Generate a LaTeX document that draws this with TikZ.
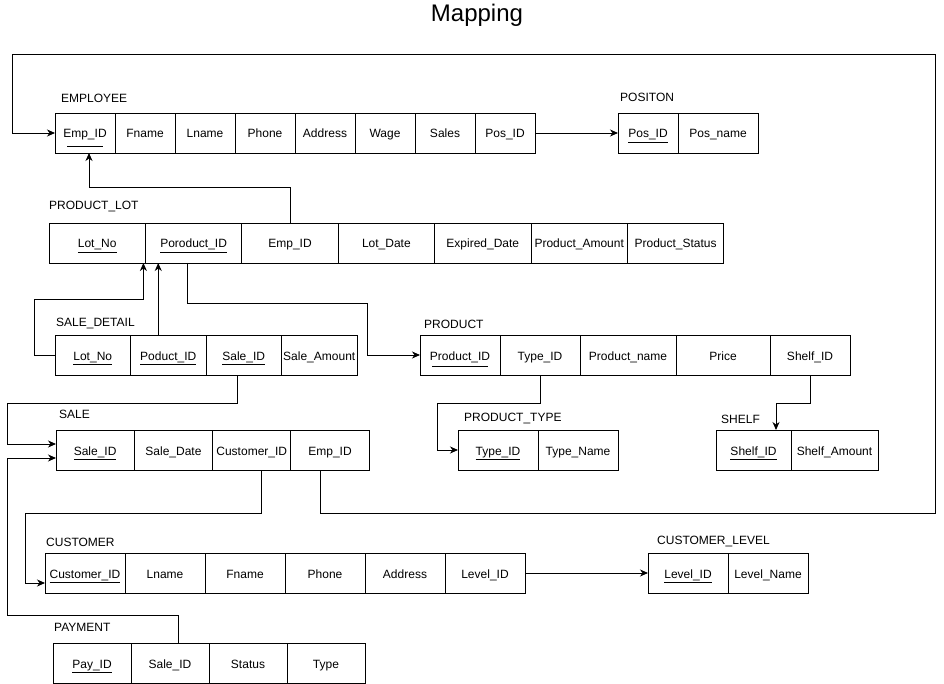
\documentclass[tikz,border=0pt]{standalone}
\usepackage{fontspec}
\setmainfont{Liberation Sans}
\usepackage{tikz}
\usetikzlibrary{positioning,arrows.meta}
\tikzset{
  cell/.style={draw, line width=0.9pt, minimum height=40pt, inner sep=0pt, outer sep=0pt, text height=12pt, text depth=2pt, font=\fontsize{12}{14}\selectfont},
  tname/.style={anchor=west, inner sep=0pt, font=\fontsize{12}{14}\selectfont},
  fk/.style={line width=0.9pt, -{Stealth[length=8pt,width=7pt,inset=2.5pt]}}
}
\begin{document}
\begin{tikzpicture}[x=1pt,y=-1pt]
        \useasboundingbox (0,0) rectangle (944,684);
        % Titre
        \node[font=\fontsize{24}{28}\selectfont] (title) at (477,15) {Mapping};
        % EMPLOYEE
        \node[tname] (tEmp) at (61,98) {EMPLOYEE};
        \node[cell, minimum width=60, anchor=north west] (emp1) at (55,113) {Emp\_ID};
        \node[cell, minimum width=60, right=0pt of emp1] (emp2) {Fname};
        \node[cell, minimum width=60, right=0pt of emp2] (emp3) {Lname};
        \node[cell, minimum width=60, right=0pt of emp3] (emp4) {Phone};
        \node[cell, minimum width=60, right=0pt of emp4] (emp5) {Address};
        \node[cell, minimum width=60, right=0pt of emp5] (emp6) {Wage};
        \node[cell, minimum width=60, right=0pt of emp6] (emp7) {Sales};
        \node[cell, minimum width=60, right=0pt of emp7] (emp8) {Pos\_ID};
        \draw[line width=0.9pt] ([xshift=-18pt,yshift=-13pt]emp1.center) -- ++(36,0);
        % POSITON
        \node[tname] (tPos) at (620,97) {POSITON};
        \node[cell, minimum width=60, anchor=north west] (pos1) at (618,113) {\underline{Pos\_ID}};
        \node[cell, minimum width=80, right=0pt of pos1] (pos2) {Pos\_name};
        % PRODUCT_LOT
        \node[tname] (tLot) at (49,207) {PRODUCT\_LOT};
        \node[cell, minimum width=96.4, anchor=north west] (lot1) at (49,223) {\underline{Lot\_No}};
        \node[cell, minimum width=96.4, right=0pt of lot1] (lot2) {\underline{Poroduct\_ID}};
        \node[cell, minimum width=96.4, right=0pt of lot2] (lot3) {Emp\_ID};
        \node[cell, minimum width=96.4, right=0pt of lot3] (lot4) {Lot\_Date};
        \node[cell, minimum width=96.4, right=0pt of lot4] (lot5) {Expired\_Date};
        \node[cell, minimum width=96.4, right=0pt of lot5] (lot6) {Product\_Amount};
        \node[cell, minimum width=96.4, right=0pt of lot6] (lot7) {Product\_Status};
        % SALE_DETAIL
        \node[tname] (tDet) at (56,324) {SALE\_DETAIL};
        \node[cell, minimum width=75.5, anchor=north west] (det1) at (55,335) {\underline{Lot\_No}};
        \node[cell, minimum width=75.5, right=0pt of det1] (det2) {\underline{Poduct\_ID}};
        \node[cell, minimum width=75.5, right=0pt of det2] (det3) {\underline{Sale\_ID}};
        \node[cell, minimum width=75.5, right=0pt of det3] (det4) {Sale\_Amount};
        % PRODUCT
        \node[tname] (tPrd) at (424,324) {PRODUCT};
        \node[cell, minimum width=80, anchor=north west] (prd1) at (420,335) {Product\_ID};
        \node[cell, minimum width=80, right=0pt of prd1] (prd2) {Type\_ID};
        \node[cell, minimum width=96, right=0pt of prd2] (prd3) {Product\_name};
        \node[cell, minimum width=94, right=0pt of prd3] (prd4) {Price};
        \node[cell, minimum width=80, right=0pt of prd4] (prd5) {Shelf\_ID};
        \draw[line width=0.9pt] ([xshift=-28pt,yshift=-11pt]prd1.center) -- ++(56,0);
        % PRODUCT_TYPE
        \node[tname] (tTyp) at (464,419) {PRODUCT\_TYPE};
        \node[cell, minimum width=80, anchor=north west] (typ1) at (458,430) {\underline{Type\_ID}};
        \node[cell, minimum width=80, right=0pt of typ1] (typ2) {Type\_Name};
        % SHELF
        \node[tname] (tShf) at (721,419) {SHELF};
        \node[cell, minimum width=75, anchor=north west] (shf1) at (716,430) {\underline{Shelf\_ID}};
        \node[cell, minimum width=87, right=0pt of shf1] (shf2) {Shelf\_Amount};
        % SALE
        \node[tname] (tSal) at (59,414) {SALE};
        \node[cell, minimum width=78.3, anchor=north west] (sal1) at (56,430) {\underline{Sale\_ID}};
        \node[cell, minimum width=78.3, right=0pt of sal1] (sal2) {Sale\_Date};
        \node[cell, minimum width=78.3, right=0pt of sal2] (sal3) {Customer\_ID};
        \node[cell, minimum width=78.3, right=0pt of sal3] (sal4) {Emp\_ID};
        % CUSTOMER
        \node[tname] (tCus) at (46,542) {CUSTOMER};
        \node[cell, minimum width=80, anchor=north west] (cus1) at (45,553) {\underline{Customer\_ID}};
        \node[cell, minimum width=80, right=0pt of cus1] (cus2) {Lname};
        \node[cell, minimum width=80, right=0pt of cus2] (cus3) {Fname};
        \node[cell, minimum width=80, right=0pt of cus3] (cus4) {Phone};
        \node[cell, minimum width=80, right=0pt of cus4] (cus5) {Address};
        \node[cell, minimum width=80, right=0pt of cus5] (cus6) {Level\_ID};
        % CUSTOMER_LEVEL
        \node[tname] (tLvl) at (657,541) {CUSTOMER\_LEVEL};
        \node[cell, minimum width=80, anchor=north west] (lvl1) at (648,553) {\underline{Level\_ID}};
        \node[cell, minimum width=80, right=0pt of lvl1] (lvl2) {Level\_Name};
        % PAYMENT
        \node[tname] (tPay) at (54,627) {PAYMENT};
        \node[cell, minimum width=78, anchor=north west] (pay1) at (53,643) {\underline{Pay\_ID}};
        \node[cell, minimum width=78, right=0pt of pay1] (pay2) {Sale\_ID};
        \node[cell, minimum width=78, right=0pt of pay2] (pay3) {Status};
        \node[cell, minimum width=78, right=0pt of pay3] (pay4) {Type};
        % Liens
        \draw[fk] (emp8.east) -- (pos1.west);
        \draw[fk] (lot3.north) -- ++(0,-36) -| ([xshift=4pt]emp1.south);
        \draw[fk] (det1.west) -| (34,299) -| ([xshift=-2pt]lot1.south east);
        \draw[fk] ([xshift=-10pt]det2.north) -- ([xshift=-10pt]det2.north |- lot2.south);
        \draw[fk] ([xshift=-6pt]lot2.south) |- (367,303) |- (prd1.west);
        \draw[fk] (prd2.south) |- (437,403) |- (typ1.west);
        \draw[fk] (prd5.south) -- ++(0,28) -| ([xshift=22.5pt]shf1.north);
        \draw[fk] ([xshift=-6pt]det3.south) |- (7,403) |- ([yshift=6pt]sal1.west);
        \draw[fk] ([xshift=8pt]pay2.north) |- (7,615) |- ([yshift=-8pt]sal1.west);
        \draw[fk] ([xshift=10pt]sal3.south) |- (25,513) |- ([yshift=-10pt]cus1.west);
        \draw[fk] ([xshift=-10pt]sal4.south) |- (935,513) |- (12,54) |- (emp1.west);
        \draw[fk] (cus6.east) -- (lvl1.west);
\end{tikzpicture}
\end{document}
